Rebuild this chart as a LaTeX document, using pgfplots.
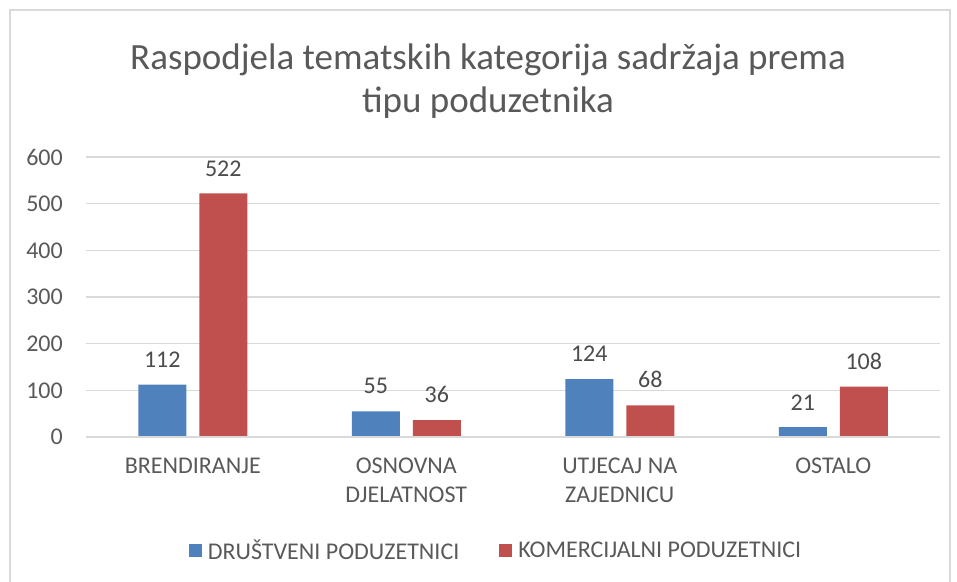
\documentclass[border=0pt]{standalone}
\usepackage{pgfplots}
\pgfplotsset{compat=1.18}
\usepackage{fontspec}
\setmainfont{Carlito}
\definecolor{cblue}{HTML}{4F81BD}
\definecolor{cred}{HTML}{C0504D}
\definecolor{txt}{HTML}{595959}
\definecolor{gridc}{HTML}{D9D9D9}
\begin{document}
\begin{tikzpicture}[x=1pt,y=1pt]
\path[use as bounding box] (0,0) rectangle (957,581);
\draw[gridc,line width=1.2pt] (10,-5) rectangle (950,571);
\node[anchor=base,text=txt,font=\fontsize{37}{44}\selectfont] at (488,511) {Raspodjela tematskih kategorija sadržaja prema};
\node[anchor=base,text=txt,font=\fontsize{37}{44}\selectfont] at (488,468) {tipu poduzetnika};
\begin{axis}[
  at={(86pt,144pt)}, anchor=south west,
  scale only axis, width=854pt, height=280pt,
  ybar=13pt, bar width=48pt,
  xmin=-0.5, xmax=3.5, ymin=0, ymax=600,
  xtick={0,1,2,3},
  xticklabels={BRENDIRANJE, OSNOVNA\\DJELATNOST, UTJECAJ NA\\ZAJEDNICU, OSTALO},
  ytick={0,100,...,600},
  axis line style={draw=none},
  axis x line*=bottom, axis y line*=left,
  major tick length=0pt,
  ymajorgrids, grid style={draw=gridc,line width=1.2pt},
  every tick label/.style={text=txt,font=\fontsize{24}{29}\selectfont},
  yticklabel style={anchor=east,inner sep=0pt,xshift=-23pt},
  xticklabel style={anchor=north,align=center,inner sep=0pt,yshift=-21pt},
  /pgf/number format/assume math mode=true,
  nodes near coords,
  every node near coord/.append style={text=txt!85!black,font=\fontsize{24}{29}\selectfont,inner sep=0pt,yshift=17pt,anchor=south},
  legend columns=2,
  legend style={at={(410pt,-113pt)},anchor=center,draw=none,fill=none,
    font=\fontsize{24}{29}\selectfont,text=txt,
    /tikz/every even column/.append style={column sep=38pt}},
  legend image code/.code={\fill[#1] (0pt,-6.5pt) rectangle (13pt,6.5pt);},
  legend cell align=left,
]
\addplot[fill=cblue,draw=none] coordinates {(0,112) (1,55) (2,124) (3,21)};
\addplot[fill=cred,draw=none] coordinates {(0,522) (1,36) (2,68) (3,108)};
\draw[gridc,line width=1.2pt] (axis cs:-0.5,0) -- (axis cs:3.5,0);
\legend{\hspace{4pt}DRUŠTVENI PODUZETNICI, \hspace{4pt}KOMERCIJALNI PODUZETNICI}
\end{axis}
\end{tikzpicture}
\end{document}
